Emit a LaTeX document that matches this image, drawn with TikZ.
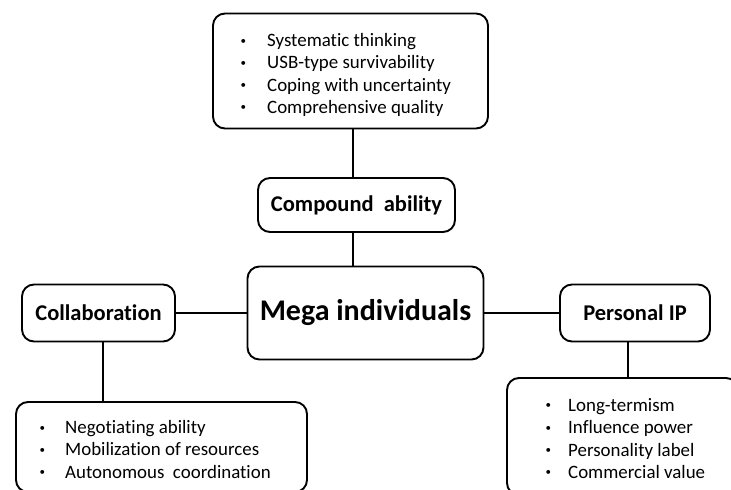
\documentclass[tikz,border=0pt]{standalone}
\usepackage{fontspec}
\setmainfont{Carlito}[RawFeature={-liga}]
\newcommand{\bul}[1]{\makebox[#1][l]{\hspace{1.5pt}\raisebox{2.5pt}{\fontsize{11}{11}\selectfont •}}}
\begin{document}
\begin{tikzpicture}[x=1pt,y=-1pt,
  box/.style={draw, line width=1.9pt, rounded corners=12pt, inner sep=0pt},
  head/.style={font=\fontsize{22.5}{26}\selectfont\bfseries},
  listtext/.style={font=\fontsize{18.9}{22.3}\selectfont, align=left, anchor=west, inner sep=0pt},
  link/.style={line width=1.9pt}]
\useasboundingbox (0,0) rectangle (731,490);
\fill[white] (0,0) rectangle (731,490);
\begin{scope}
\clip (0,0) rectangle (731,490);
% boxes
\node[box, minimum width=275pt, minimum height=115pt] (top) at (350.5,71) {};
\node[box, head, minimum width=197pt, minimum height=54pt] (comp) at (356.5,205) {Compound\ \ ability};
\node[box, minimum width=236pt, minimum height=93pt, font=\fontsize{30}{34}\selectfont\bfseries] (mega) at (365.5,313) {Mega individuals};
\node[box, head, minimum width=153pt, minimum height=57pt] (collab) at (98.5,313) {Collaboration};
\node[box, head, minimum width=150pt, minimum height=57pt] (pip) at (635,313) {Personal IP};
\node[box, minimum width=291pt, minimum height=90pt] (bl) at (161.5,447) {};
\node[box, minimum width=231pt, minimum height=117pt] (br) at (622.5,436.5) {};
% lists
\node[listtext] (toplist) at (239,75) {\bul{28pt}Systematic\ thinking\\ \bul{28pt}USB-type survivability\\ \bul{28pt}Coping with uncertainty\\ \bul{28pt}Comprehensive quality};
\node[listtext] (bllist) at (38,449.5) {\bul{27pt}Negotiating ability\\ \bul{27pt}Mobilization of resources\\ \bul{27pt}Autonomous\ \ coordination};
\node[listtext] (brlist) at (544,438.5) {\bul{24pt}Long-termism\\ \bul{24pt}Influence power\\ \bul{24pt}Personality label\\ \bul{24pt}Commercial value};
% connectors
\draw[link] ([xshift=2.5pt]top.south) -- ([xshift=2.5pt]top.south |- comp.north);
\draw[link] ([xshift=-3.5pt]comp.south) -- ([xshift=-3.5pt]comp.south |- mega.north);
\draw[link] (collab.east) -- (mega.west);
\draw[link] (mega.east) -- (pip.east -| pip.west);
\draw[link] ([xshift=4.5pt]collab.south) -- ([xshift=4.5pt]collab.south |- bl.north);
\draw[link] ([xshift=-7pt]pip.south) -- ([xshift=-7pt]pip.south |- br.north);
\end{scope}
\end{tikzpicture}
\end{document}
